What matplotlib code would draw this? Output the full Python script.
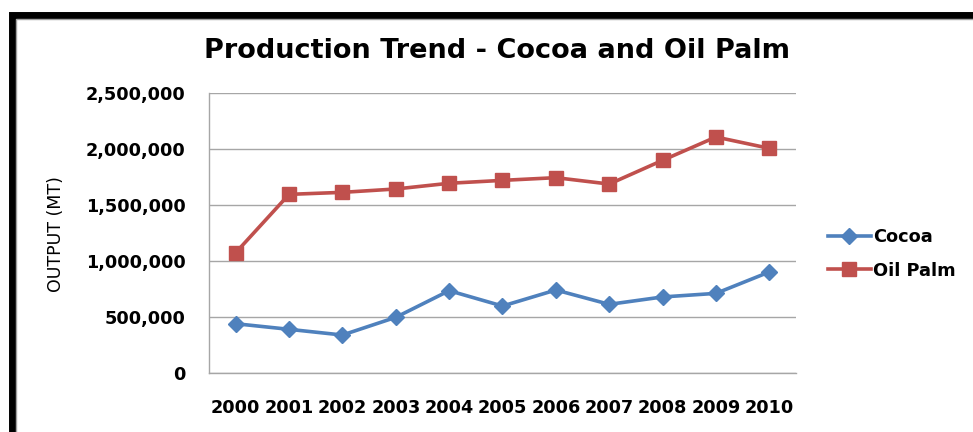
import matplotlib
matplotlib.use("Agg")
import matplotlib.pyplot as plt
from matplotlib.patches import Rectangle
from matplotlib.ticker import FuncFormatter

years = ["2000", "2001", "2002", "2003", "2004", "2005", "2006", "2007", "2008", "2009", "2010"]
cocoa = [440000, 390000, 339000, 497000, 735000, 598000, 741000, 613000, 679000, 711000, 902000]
oil_palm = [1074000, 1595000, 1613000, 1643000, 1694000, 1720000, 1744000, 1687000, 1899000, 2107000, 2006000]
yticks = [0, 500000, 1000000, 1500000, 2000000, 2500000]

FONT = "DejaVu Sans"
W, H = 973, 432
fig = plt.figure(figsize=(W / 100, H / 100), dpi=100)
fig.patch.set_facecolor("white")

ax = fig.add_axes([209 / W, 1 - 373 / H, 587 / W, 280 / H])
x = list(range(len(years)))
ax.plot(x, cocoa, color="#4F81BD", lw=2.6, marker="D", ms=8.5, label="Cocoa", zorder=3)
ax.plot(x, oil_palm, color="#C0504D", lw=2.6, marker="s", ms=10.5, label="Oil Palm", zorder=3)

ax.set_xlim(-0.5, len(years) - 0.5)
ax.set_ylim(0, 2500000)
ax.set_yticks(yticks)
ax.yaxis.set_major_formatter(FuncFormatter(lambda v, p: f"{int(v):,}"))
ax.set_xticks(x)
ax.set_xticklabels(years)
ax.grid(axis="y", color="#A6A6A6", lw=1.0)
ax.set_axisbelow(True)
for s in ["top", "right"]:
    ax.spines[s].set_visible(False)
for s in ["left", "bottom"]:
    ax.spines[s].set_color("#A6A6A6")
    ax.spines[s].set_linewidth(1.0)
ax.tick_params(length=0)
ax.tick_params(axis="y", pad=17)
ax.tick_params(axis="x", pad=19)
for lab in ax.get_yticklabels() + ax.get_xticklabels():
    lab.set_fontfamily(FONT)
    lab.set_fontweight("bold")
    lab.set_fontsize(12.7)

ax.set_ylabel("OUTPUT (MT)", fontfamily=FONT, fontsize=12.5, labelpad=0)
ax.yaxis.set_label_coords((65 - 209) / 587, (373 - 234.5) / 280)

fig.text(497 / W, 1 - 51 / H, "Production Trend - Cocoa and Oil Palm",
         ha="center", va="center", fontfamily=FONT, fontweight="bold", fontsize=19.5)

leg = fig.legend(loc="center left", bbox_to_anchor=(812 / W, 1 - 254 / H), frameon=False,
                 prop={"family": FONT, "weight": "bold", "size": 12.8},
                 handlelength=2.4, handletextpad=0.15, labelspacing=0.85)

# frame border (black, cut off at right and bottom)
fig.patches.append(Rectangle((11.5 / W, -0.2), 2.0, 1.2 - 15 / H, transform=fig.transFigure,
                             fill=False, edgecolor="black", lw=5.0, zorder=10))
fig.patches.append(Rectangle((16 / W, -0.2), 2.0, 1.2 - 19 / H, transform=fig.transFigure,
                             fill=False, edgecolor="#A0A0A0", lw=1.0, zorder=10))

fig.savefig("out.png", dpi=100)
